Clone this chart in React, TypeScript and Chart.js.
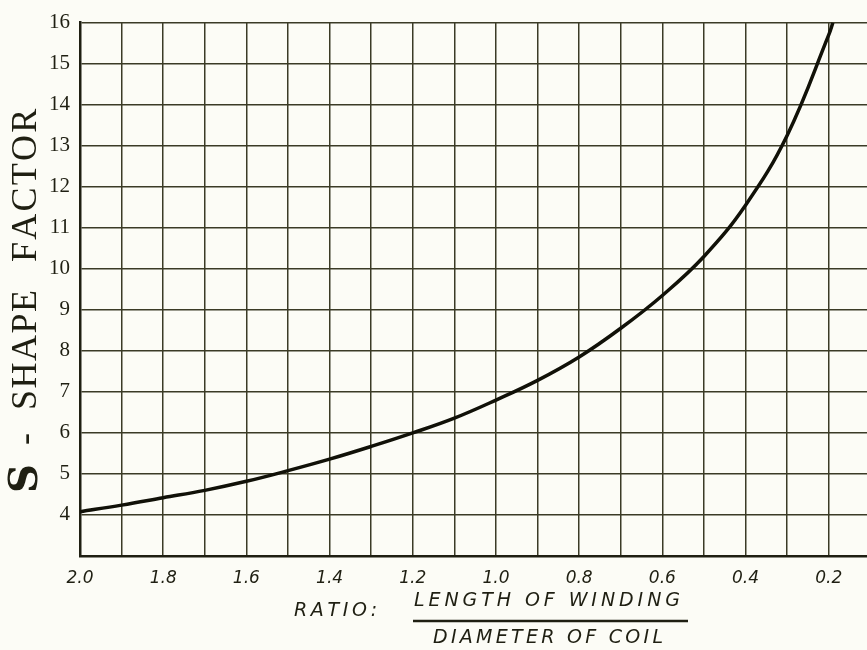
import React, { useEffect, useRef } from "react";
import { Chart, registerables } from "chart.js";

Chart.register(...registerables);

// Ratio: length of winding / diameter of coil
const ratio = [2.0, 1.9, 1.8, 1.7, 1.6, 1.5, 1.4, 1.3, 1.2, 1.1, 1.0, 0.9, 0.8, 0.7, 0.6, 0.5, 0.4, 0.3, 0.2, 0.19];
// S - shape factor
const shapeFactor = [4.08, 4.24, 4.42, 4.6, 4.82, 5.08, 5.36, 5.67, 6.0, 6.36, 6.8, 7.28, 7.85, 8.55, 9.35, 10.3, 11.55, 13.25, 15.7, 16.0];

const xGrid = [2.0, 1.9, 1.8, 1.7, 1.6, 1.5, 1.4, 1.3, 1.2, 1.1, 1.0, 0.9, 0.8, 0.7, 0.6, 0.5, 0.4, 0.3, 0.2];
const xTickLabels = ["2.0", "", "1.8", "", "1.6", "", "1.4", "", "1.2", "", "1.0", "", "0.8", "", "0.6", "", "0.4", "", "0.2"];
const yGrid = [3, 4, 5, 6, 7, 8, 9, 10, 11, 12, 13, 14, 15, 16];
const yTickLabels = ["", "4", "5", "6", "7", "8", "9", "10", "11", "12", "13", "14", "15", "16"];

const yTitleMain = "S";
const yTitleWords = ["-", "SHAPE", "FACTOR"];
const xTitleLead = "RATIO:";
const xTitleNum = "LENGTH OF WINDING";
const xTitleDen = "DIAMETER OF COIL";

const INK = "#1f1f12";
const GRID = "#3b3b26";
const PAPER = "#fcfcf6";

function drawSpaced(ctx: CanvasRenderingContext2D, text: string, cx: number, cy: number, width: number) {
  (ctx as any).letterSpacing = "0px";
  const w = ctx.measureText(text).width;
  const n = text.length;
  const sp = n > 1 ? (width - w) / (n - 1) : 0;
  let x = cx - width / 2;
  for (const ch of text) {
    ctx.fillText(ch, x, cy);
    x += ctx.measureText(ch).width + sp;
  }
}

const titlesPlugin = {
  id: "titles",
  beforeDraw(chart: any) {
    const ctx = chart.ctx as CanvasRenderingContext2D;
    ctx.save();
    ctx.fillStyle = PAPER;
    ctx.fillRect(0, 0, chart.width, chart.height);
    ctx.restore();
  },
  afterDraw(chart: any) {
    const ctx = chart.ctx as CanvasRenderingContext2D;
    ctx.save();
    ctx.fillStyle = INK;
    ctx.textBaseline = "middle";
    ctx.textAlign = "left";
    // Y title (rotated)
    ctx.save();
    ctx.translate(27, 0);
    ctx.rotate(-Math.PI / 2);
    ctx.font = "bold 40px 'DejaVu Serif'";
    drawSpaced(ctx, yTitleMain, -480, 0, 26);
    ctx.font = "36px 'Liberation Serif'";
    drawSpaced(ctx, yTitleWords[0], -440, 0, 10);
    drawSpaced(ctx, yTitleWords[1], -350, 0, 120);
    drawSpaced(ctx, yTitleWords[2], -187, 0, 150);
    ctx.restore();
    // X title
    ctx.font = "italic 19px 'DejaVu Sans'";
    drawSpaced(ctx, xTitleLead, 335, 611, 82);
    drawSpaced(ctx, xTitleNum, 547, 601, 266);
    drawSpaced(ctx, xTitleDen, 548, 638, 230);
    ctx.strokeStyle = INK;
    ctx.lineWidth = 2.5;
    ctx.beginPath();
    ctx.moveTo(413, 621);
    ctx.lineTo(688, 621);
    ctx.stroke();
    ctx.restore();
  },
};

export default function App() {
  const ref = useRef<HTMLCanvasElement | null>(null);
  useEffect(() => {
    if (!ref.current) return;
    const chart = new Chart(ref.current, {
      type: "line",
      data: {
        datasets: [
          {
            data: ratio.map((r, i) => ({ x: r, y: shapeFactor[i] })),
            borderColor: "#111108",
            borderWidth: 3.5,
            pointRadius: 0,
            tension: 0.4,
            fill: false,
          },
        ],
      },
      options: {
        animation: false,
        responsive: false,
        devicePixelRatio: 1,
        layout: { padding: { left: 0, right: 0, top: 16, bottom: 0 } },
        plugins: { legend: { display: false }, tooltip: { enabled: false } },
        scales: {
          x: {
            type: "linear",
            reverse: true,
            min: 0.108,
            max: 2.0,
            afterBuildTicks: (s: any) => {
              s.ticks = xGrid.map((v) => ({ value: v }));
            },
            afterFit: (s: any) => {
              s.height = 94;
            },
            grid: { color: GRID, lineWidth: 1.5, drawTicks: false },
            border: { color: INK, width: 2.5 },
            ticks: {
              autoSkip: false,
              maxRotation: 0,
              padding: 12,
              color: INK,
              font: { family: "'DejaVu Sans'", size: 17, style: "italic" },
              callback: (_v: any, i: number) => xTickLabels[i],
            },
          },
          y: {
            type: "linear",
            min: 3,
            max: 16,
            afterBuildTicks: (s: any) => {
              s.ticks = yGrid.map((v) => ({ value: v }));
            },
            afterFit: (s: any) => {
              s.width = 80;
            },
            grid: { color: GRID, lineWidth: 1.5, drawTicks: false },
            border: { color: INK, width: 2.5 },
            ticks: {
              autoSkip: false,
              padding: 10,
              color: INK,
              font: { family: "'Liberation Serif'", size: 21 },
              callback: (_v: any, i: number) => yTickLabels[i],
            },
          },
        },
      },
      plugins: [titlesPlugin],
    } as any);
    return () => chart.destroy();
  }, []);
  return (
    <div style={{ position: "fixed", left: 0, top: 0, width: 867, height: 650, background: PAPER }}>
      <canvas ref={ref} width={867} height={650} style={{ width: 867, height: 650, display: "block" }} />
    </div>
  );
}
